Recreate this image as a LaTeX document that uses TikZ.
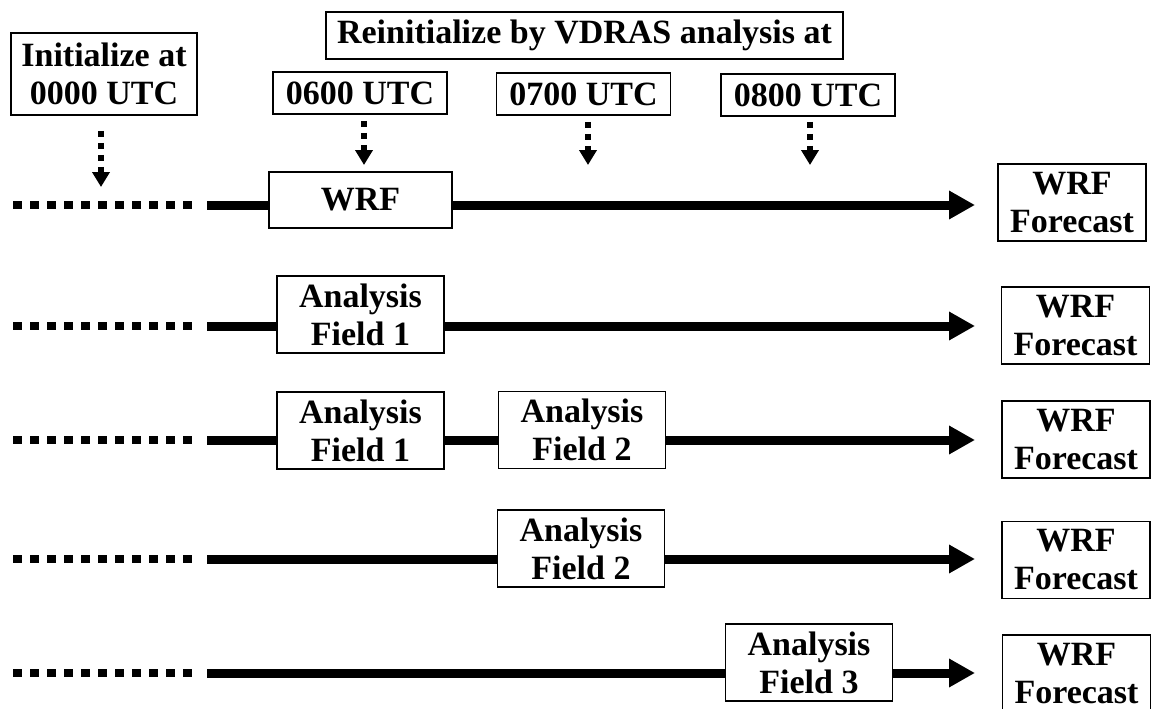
\documentclass[tikz,border=0pt]{standalone}
\usepackage{fontspec}
\setmainfont{Liberation Serif}
\usetikzlibrary{arrows.meta}
\begin{document}
\begin{tikzpicture}[x=1pt,y=-1pt,
  lbl/.style={draw, line width=1.8pt, fill=white, inner sep=0pt, align=center,
    font=\fontsize{34}{38}\selectfont\bfseries},
  timebox/.style={lbl, minimum width=174pt, minimum height=42pt},
  fieldbox/.style={lbl, minimum width=167pt, minimum height=77pt},
  fcbox/.style={lbl, minimum width=148pt, minimum height=77pt},
  cue/.style={line width=6.5pt, dash pattern=on 6.5pt off 5.5pt,
    -{Triangle[width=17pt,length=15pt]}},
  lead/.style={line width=8.5pt, dash pattern=on 8.5pt off 8.5pt, shorten >=15pt},
  trunk/.style={line width=9pt},
  trunkend/.style={trunk, -{Triangle[width=27pt,length=26pt]}}]
\useasboundingbox (0,0) rectangle (1152,709);

% ---- start and re-initialisation times ----
\node[lbl, minimum width=186pt, minimum height=82pt] (init) at (104,74) {Initialize at\\0000 UTC};
\node[lbl, minimum width=517pt, minimum height=47pt] (reinit) at (584.5,35.5) {Reinitialize by VDRAS analysis at};
\node[timebox] (t06) at (360,93) {0600 UTC};
\node[timebox] (t07) at (583.5,94) {0700 UTC};
\node[timebox] (t08) at (808,95) {0800 UTC};

\coordinate (p00) at (101,187);
\coordinate (p06) at (364,165);
\coordinate (p07) at (588,165);
\coordinate (p08) at (810,165);
\draw[cue, shorten <=15pt] (init.south -| p00) -- (p00);
\draw[cue, shorten <=6pt] (t06.south -| p06) -- (p06);
\draw[cue, shorten <=6pt] (t07.south -| p07) -- (p07);
\draw[cue, shorten <=5pt] (t08.south -| p08) -- (p08);

% ---- row 1: free WRF run ----
\coordinate (r1a) at (13,205);
\coordinate (r1b) at (207,205);
\coordinate (r1c) at (975,205);
\node[lbl, minimum width=183pt, minimum height=56pt] (wrf) at (360.5,200) {WRF};
\node[fcbox] (f1) at (1072,202.5) {WRF\\Forecast};
\draw[lead] (r1a) -- (r1b);
\draw[trunk] (r1b) -- (wrf.west |- r1b);
\draw[trunkend] (wrf.east |- r1b) -- (r1c);

% ---- row 2: analysis field 1 ----
\coordinate (r2a) at (13,326);
\coordinate (r2b) at (207,326);
\coordinate (r2c) at (975,326);
\node[fieldbox] (a21) at (360.5,314.5) {Analysis\\Field 1};
\node[fcbox] (f2) at (1075.5,325.5) {WRF\\Forecast};
\draw[lead] (r2a) -- (r2b);
\draw[trunk] (r2b) -- (a21.west |- r2b);
\draw[trunkend] (a21.east |- r2b) -- (r2c);

% ---- row 3: analysis fields 1 and 2 ----
\coordinate (r3a) at (13,440);
\coordinate (r3b) at (207,440);
\coordinate (r3c) at (975,440);
\node[fieldbox] (a31) at (360.5,430.5) {Analysis\\Field 1};
\node[fieldbox] (a32) at (582,430) {Analysis\\Field 2};
\node[fcbox] (f3) at (1076,439.5) {WRF\\Forecast};
\draw[lead] (r3a) -- (r3b);
\draw[trunk] (r3b) -- (a31.west |- r3b);
\draw[trunk] (a31.east |- r3b) -- (a32.west |- r3b);
\draw[trunkend] (a32.east |- r3b) -- (r3c);

% ---- row 4: analysis field 2 ----
\coordinate (r4a) at (13,559);
\coordinate (r4b) at (207,559);
\coordinate (r4c) at (975,559);
\node[fieldbox] (a42) at (581,548.5) {Analysis\\Field 2};
\node[fcbox] (f4) at (1076,560) {WRF\\Forecast};
\draw[lead] (r4a) -- (r4b);
\draw[trunk] (r4b) -- (a42.west |- r4b);
\draw[trunkend] (a42.east |- r4b) -- (r4c);

% ---- row 5: analysis field 3 ----
\coordinate (r5a) at (13,673);
\coordinate (r5b) at (207,673);
\coordinate (r5c) at (975,673);
\node[fieldbox] (a53) at (809,662.5) {Analysis\\Field 3};
\node[fcbox] (f5) at (1076.5,673.5) {WRF\\Forecast};
\draw[lead] (r5a) -- (r5b);
\draw[trunk] (r5b) -- (a53.west |- r5b);
\draw[trunkend] (a53.east |- r5b) -- (r5c);
\end{tikzpicture}
\end{document}
